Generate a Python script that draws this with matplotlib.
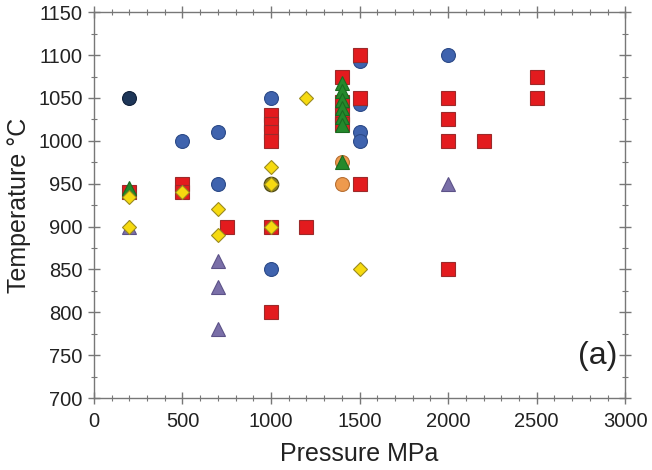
import matplotlib
matplotlib.use('Agg')

import numpy as np
import matplotlib.pyplot as plt
from matplotlib.ticker import MultipleLocator

plt.rcParams['font.family'] = ['Liberation Sans', 'DejaVu Sans']

# data (pressure MPa, temperature C)
purple_p = [200, 700, 700, 700, 2000]
purple_t = [900, 860, 830, 780, 950]

orange_p = [1400, 1400]
orange_t = [950, 975]

olive_p = [1000]
olive_t = [950]

navy_p = [200]
navy_t = [1050]

blue_p = [500, 700, 700, 1000, 1000, 1500, 1500, 1500, 1500, 2000]
blue_t = [1000, 1010, 950, 1050, 850, 1093, 1043, 1010, 1000, 1100]

red_p = [200, 500, 500, 750, 1000, 1000, 1000, 1000, 1000, 1000, 1200,
         1400, 1400, 1400, 1400, 1500, 1500, 1500, 2000, 2000, 2000, 2000,
         2200, 2500, 2500]
red_t = [940, 950, 940, 900, 1030, 1020, 1010, 1000, 900, 800, 900,
         1075, 1045, 1030, 1020, 1100, 1050, 950, 1050, 1025, 1000, 850,
         1000, 1075, 1050]

green_p = [200, 1400, 1400, 1400, 1400, 1400, 1400, 1400]
green_t = [945, 1068, 1058, 1048, 1038, 1028, 1018, 975]

yellow_p = [200, 200, 500, 700, 700, 1000, 1000, 1000, 1200, 1500]
yellow_t = [935, 900, 940, 920, 890, 970, 950, 900, 1050, 850]


def main():
    fig = plt.figure(figsize=(6.52, 4.70), dpi=100)
    ax = fig.add_axes([0.144, 0.153, 0.815, 0.821])

    ax.plot(purple_p, purple_t, '^', ms=10, mfc='#7A6FA8', mec='#5c5288', mew=0.8, ls='none')
    ax.plot(orange_p, orange_t, 'o', ms=10, mfc='#EE9A4D', mec='#b87033', mew=0.8, ls='none')
    ax.plot(olive_p, olive_t, 'o', ms=10.5, mfc='#8c8420', mec='#4a4510', mew=0.8, ls='none')
    ax.plot(navy_p, navy_t, 'o', ms=10, mfc='#1E3658', mec='#10203a', mew=0.8, ls='none')
    ax.plot(blue_p, blue_t, 'o', ms=10, mfc='#3F63AE', mec='#2c4a88', mew=0.8, ls='none')
    ax.plot(red_p, red_t, 's', ms=10, mfc='#E31B1E', mec='#9c2a2a', mew=0.8, ls='none')
    ax.plot(green_p, green_t, '^', ms=10, mfc='#24892B', mec='#1a6a20', mew=0.8, ls='none')
    ax.plot(yellow_p, yellow_t, 'D', ms=7.5, mfc='#F6DA10', mec='#9a8a20', mew=0.8, ls='none')

    ax.set_xlim(0, 3000)
    ax.set_ylim(700, 1150)
    ax.xaxis.set_major_locator(MultipleLocator(500))
    ax.xaxis.set_minor_locator(MultipleLocator(100))
    ax.yaxis.set_major_locator(MultipleLocator(50))
    ax.yaxis.set_minor_locator(MultipleLocator(25))

    for s in ax.spines.values():
        s.set_color('#777777')
        s.set_linewidth(1.0)
    ax.tick_params(which='both', direction='inout', top=True, right=True,
                   color='#777777', labelsize=14.5, labelcolor='#222222')
    ax.tick_params(which='major', length=8, width=1.0)
    ax.tick_params(axis='x', which='major', pad=6)
    ax.tick_params(axis='y', which='major', pad=4)
    ax.tick_params(which='minor', length=4, width=0.8)

    ax.set_xlabel('Pressure MPa', fontsize=18, color='#222222', labelpad=8)
    ax.set_ylabel('Temperature \u00b0C', fontsize=18, color='#222222', labelpad=5)
    ax.text(0.985, 0.108, '(a)', transform=ax.transAxes, fontsize=23,
            ha='right', va='center', color='#222222')

    fig.savefig('out.png', dpi=100)
    plt.close(fig)


if __name__ == '__main__':
    main()
